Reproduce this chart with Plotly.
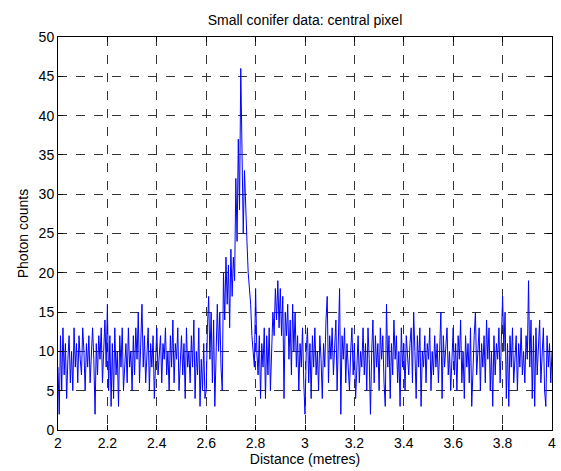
import numpy as np
import plotly.graph_objects as go

dist_start = 2.0
dist_step = 0.005

counts_2_0_to_2_6 = [
    8, 2, 12, 5, 13, 7, 11, 4, 9, 12, 6, 10,
    5, 13, 8, 11, 6, 12, 9, 7, 13, 10, 5, 11,
    8, 12, 6, 10, 13, 9, 2, 11, 7, 12, 9, 13,
    6, 10, 14, 8, 16, 5, 12, 3, 11, 4, 13, 7,
    10, 3, 12, 8, 13, 5, 9, 11, 6, 13, 8, 10,
    5, 12, 7, 13, 9, 15, 6, 11, 16, 8, 12, 6,
    10, 13, 5, 11, 8, 12, 4, 10, 13, 7, 9, 12,
    6, 11, 9, 13, 7, 10, 5, 12, 8, 14, 6, 11,
    9, 13, 5, 10, 12, 7, 11, 4, 13, 8, 10, 6,
    12, 8, 14, 4, 10, 7, 13, 3, 9, 5, 11, 4,
]
counts_2_6_to_2_8 = [
    5, 13, 17, 9, 15, 6, 14, 3, 11, 16,
    10, 15, 8, 5, 20, 14, 22, 16, 21, 13,
    23, 17, 22, 19, 32, 24, 37, 28, 46, 33,
    25, 33, 27, 24, 20, 18, 16, 12, 10, 8,
]
counts_2_8_to_3_0 = [
    18, 10, 7, 12, 4, 11, 8, 13, 4, 12,
    7, 13, 5, 11, 15, 12, 18, 14, 19, 13,
    18, 12, 17, 4, 15, 12, 16, 9, 14, 7,
    16, 10, 15, 8, 12, 5, 11, 8, 13, 6,
]
counts_3_0_to_3_6 = [
    2, 10, 13, 6, 11, 4, 12, 8, 13, 7, 10, 5,
    12, 9, 4, 11, 8, 14, 17, 6, 12, 9, 13, 7,
    10, 14, 5, 11, 18, 2, 12, 9, 13, 6, 11, 8,
    5, 10, 13, 7, 11, 4, 9, 12, 6, 10, 8, 13,
    7, 11, 5, 13, 9, 2, 10, 14, 6, 12, 8, 11,
    5, 13, 9, 12, 6, 3, 16, 8, 12, 4, 11, 7,
    14, 9, 12, 6, 10, 3, 13, 8, 11, 5, 12, 9,
    7, 11, 13, 6, 15, 10, 4, 12, 8, 13, 3, 10,
    8, 12, 6, 11, 9, 13, 5, 10, 7, 12, 8, 11,
    6, 10, 15, 4, 12, 8, 11, 13, 7, 10, 5, 9,
]
counts_3_6_to_4_0 = [
    13, 7, 11, 5, 12, 9, 14, 6, 10, 4, 12, 8,
    11, 6, 13, 3, 9, 12, 15, 7, 10, 13, 5, 11,
    8, 12, 6, 14, 9, 13, 5, 10, 3, 12, 7, 11,
    9, 13, 6, 12, 17, 10, 15, 4, 11, 3, 12, 8,
    13, 6, 10, 12, 5, 11, 8, 13, 7, 10, 6, 12,
    9, 19, 8, 14, 4, 12, 3, 13, 7, 11, 14, 6,
    10, 13, 5, 3, 12, 8, 11, 6, 10,
]

x_tick_vals = [2, 2.2, 2.4, 2.6, 2.8, 3, 3.2, 3.4, 3.6, 3.8, 4]
x_tick_text = ["2", "2.2", "2.4", "2.6", "2.8", "3", "3.2", "3.4", "3.6", "3.8", "4"]
y_tick_vals = [0, 5, 10, 15, 20, 25, 30, 35, 40, 45, 50]

counts = (counts_2_0_to_2_6 + counts_2_6_to_2_8 + counts_2_8_to_3_0
          + counts_3_0_to_3_6 + counts_3_6_to_4_0)
distance = dist_start + dist_step * np.arange(len(counts))

font = "Liberation Sans, Arial, sans-serif"

fig = go.Figure()
fig.add_trace(go.Scatter(x=distance, y=counts, mode="lines",
                         line=dict(color="#0000ff", width=1)))

axis_common = dict(
    showline=True, linecolor="black", linewidth=1, mirror="ticks",
    ticks="inside", ticklen=5, tickcolor="black", tickwidth=1,
    showgrid=True, gridcolor="#333333", gridwidth=1, griddash="dash",
    zeroline=False, tickfont=dict(family=font, size=14, color="black"),
)

fig.update_layout(
    width=561, height=471,
    margin=dict(l=58, r=5, t=37, b=41),
    paper_bgcolor="white", plot_bgcolor="white",
    showlegend=False,
    title=dict(text="Small conifer data: central pixel", x=0.5, xref="paper",
               y=1 - 20 / 471, yref="container", yanchor="middle",
               font=dict(family=font, size=14, color="black")),
    xaxis=dict(range=[2, 4], tickvals=x_tick_vals, ticktext=x_tick_text,
               title=dict(text="Distance (metres)", standoff=3,
                          font=dict(family=font, size=14, color="black")),
               **axis_common),
    yaxis=dict(range=[0, 50], tickvals=y_tick_vals,
               title=dict(text="Photon counts", standoff=6,
                          font=dict(family=font, size=14, color="black")),
               **axis_common),
)

fig.write_html("out.html")
